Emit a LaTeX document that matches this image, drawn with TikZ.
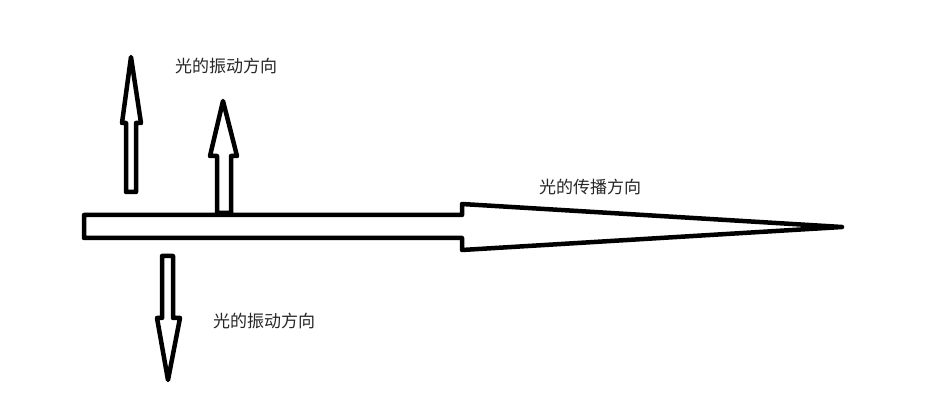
\documentclass[tikz,border=0pt]{standalone}
\usepackage{fontspec}
\newfontfamily\cjk{Noto Sans CJK SC}
\begin{document}
\begin{tikzpicture}[x=1pt,y=-1pt,
  outl/.style={draw=black,line width=4.5pt,line join=round,fill=white},
  lbl/.style={font=\cjk\fontsize{17}{19}\selectfont,text=black!85,inner sep=0pt,anchor=west}]
\useasboundingbox[fill=white] (0,0) rectangle (945,419);
% main horizontal arrow
\draw[outl] (84,215) -- (462,215) -- (462,204) -- (842,227) -- (462,250) -- (462,238) -- (84,238) -- cycle;
% upward arrow 1
\draw[outl] (126,192) -- (126,123) -- (122,123) -- (131,57) -- (141,123) -- (136,123) -- (136,192) -- cycle;
% upward arrow 2
\draw[outl] (217,213) -- (217,156) -- (210,156) -- (223,101) -- (237,156) -- (231,156) -- (231,213) -- cycle;
% downward arrow
\draw[outl] (162,256) -- (173,256) -- (173,318) -- (180,318) -- (168,380) -- (157,318) -- (162,318) -- cycle;
% labels
\node[lbl] (v1) at (175,66) {光的振动方向};
\node[lbl] (p) at (539,187) {光的传播方向};
\node[lbl] (v2) at (213,321) {光的振动方向};
\end{tikzpicture}
\end{document}
